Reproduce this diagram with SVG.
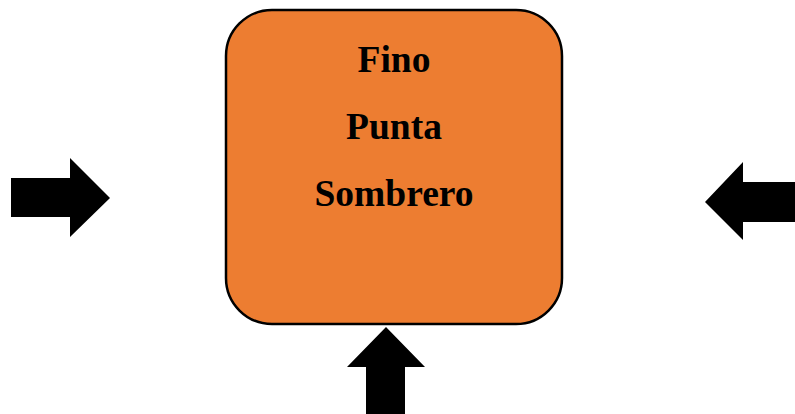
<svg xmlns="http://www.w3.org/2000/svg" width="795" height="414" viewBox="0 0 795 414">
<style>
.box{fill:#ED7D31;stroke:#000;stroke-width:2.5}
.lbl{font-family:"Liberation Serif","Times New Roman",serif;font-weight:bold;font-size:37.5px;fill:#000;text-anchor:middle}
.arr{fill:#000}
</style>
<rect width="795" height="414" fill="#fff"/>
<g id="node-main">
<rect class="box" x="226" y="10" width="336" height="314" rx="46" ry="46"/>
<text class="lbl" x="394" y="72">Fino</text>
<text class="lbl" x="394" y="139">Punta</text>
<text class="lbl" x="394" y="206">Sombrero</text>
</g>
<g id="connectors">
<polygon id="arrow-left" class="arr" points="11,178 70,178 70,158 110,198 70,237 70,217 11,217"/>
<polygon id="arrow-right" class="arr" points="795,182 743,182 743,162 705,202 743,240 743,222 795,222"/>
<polygon id="arrow-bottom" class="arr" points="366,414 366,367 347,367 386,327 425,367 405,367 405,414"/>
</g>
</svg>
